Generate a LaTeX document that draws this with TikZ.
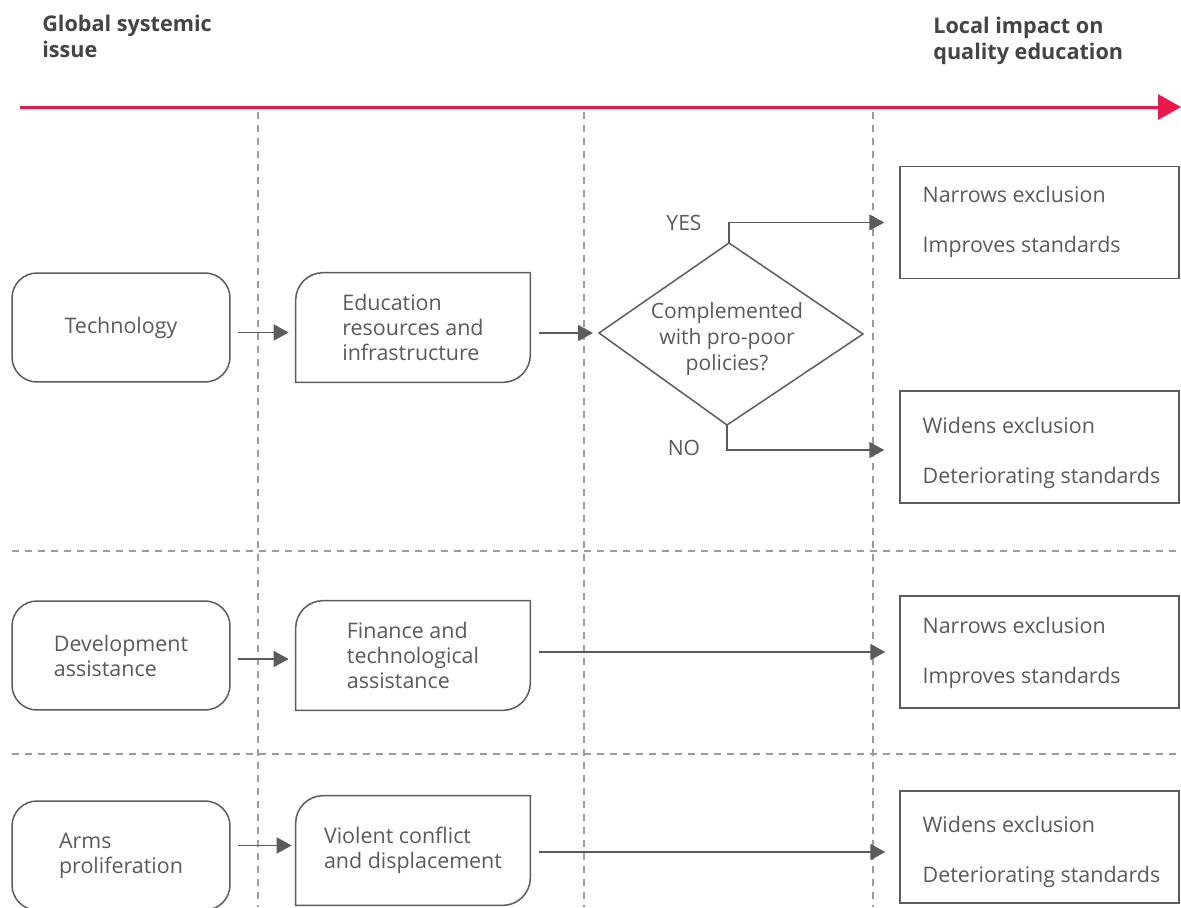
\documentclass[tikz,border=0pt]{standalone}
\usepackage{fontspec}
\setmainfont{Open Sans}
\newfontfamily\osans{Open Sans}
\usetikzlibrary{arrows.meta}
\definecolor{txt}{HTML}{5A5A5A}
\definecolor{ttl}{HTML}{444444}
\definecolor{ln}{HTML}{5C5C5C}
\definecolor{dsh}{HTML}{9C9C9C}
\definecolor{accent}{HTML}{E8194B}
\begin{document}
\begin{tikzpicture}[x=0.02cm,y=-0.02cm,
  font=\fontsize{12.2}{14.2}\selectfont, text=txt,
  lbox/.style={draw=ln, line width=0.03cm, rounded corners=0.5cm, minimum width=4.36cm, minimum height=2.18cm, align=left},
  mbox/.style={minimum width=4.62cm, minimum height=2.18cm, align=left, inner sep=0pt},
  rbox/.style={draw=ln, line width=0.03cm, minimum width=5.58cm, minimum height=2.24cm},
  rtext/.style={anchor=west, inner sep=0pt, align=left},
  conn/.style={draw=ln, line width=0.034cm, -{Triangle[length=0.3cm,width=0.32cm]}},
  gridline/.style={draw=dsh, line width=0.025cm, dash pattern=on 0.14cm off 0.12cm},
  qfont/.style={font=\osans\fontsize{12}{14.8}\selectfont},
  ttlfont/.style={font=\bfseries\fontsize{12.3}{14.8}\selectfont, text=ttl},
  ]
\useasboundingbox (0,0) rectangle (1181,907);
% dashed grid
\draw[gridline] (258,112) -- (258,907);
\draw[gridline] (584,112) -- (584,907);
\draw[gridline] (873,112) -- (873,907);
\draw[gridline] (12,551) -- (1181,551);
\draw[gridline] (12,754) -- (1181,754);
% red axis
\coordinate (axs) at (20,107);
\coordinate (axe) at (1181,107);
\draw[accent, line width=0.06cm, -{Triangle[length=0.46cm,width=0.5cm]}] (axs) -- (axe);
% titles
\node[anchor=north west, inner sep=0pt, align=left, ttlfont] (gsi) at (42,15) {Global systemic\\issue};
\node[anchor=north west, inner sep=0pt, align=left, ttlfont] (lic) at (933,17) {Local impact on\\quality education};
% left boxes
\node[lbox] (t1) at (121,327.5) {Technology};
\node[lbox] (t2) at (121,655.5) {Development\\assistance};
\node[lbox] (t3) at (121,855.5) {Arms\\proliferation};
% middle boxes
\node[mbox] (m1) at (413,327.5) {Education\\resources and\\infrastructure};
\node[mbox] (m2) at (413,655.5) {Finance and\\technological\\assistance};
\node[mbox] (m3) at (413,850.5) {Violent conflict\\and displacement};
\foreach \n in {m1,m2,m3}
  \draw[draw=ln, line width=0.03cm] ([xshift=-0.03cm]\n.south west) -- ([xshift=-0.03cm,yshift=-0.55cm]\n.north west) arc[start angle=180,end angle=90,radius=0.55cm] -- ([xshift=0.03cm]\n.north east) -- ([xshift=0.03cm,yshift=0.55cm]\n.south east) arc[start angle=0,end angle=-90,radius=0.55cm] -- cycle;
% decision diamond
\coordinate (dL) at (599,333);
\coordinate (dT) at (729,243);
\coordinate (dR) at (863,334);
\coordinate (dB) at (727,425);
\draw[draw=ln, line width=0.03cm] (dL) -- (dT) -- (dR) -- (dB) -- cycle;
\node[qfont, align=center] (dq) at (727,339) {Complemented\\with pro-poor\\policies?};
\node[qfont] (yes) at (684,223) {YES};
\node[qfont] (no) at (684,448) {NO};
% right boxes
\node[rbox] (r1) at (1039.5,222.5) {};
\node[rbox] (r2) at (1039.5,447) {};
\node[rbox] (r3) at (1039.5,652) {};
\node[rbox] (r4) at (1039.5,847) {};
\node[rtext] (r1t) at ([xshift=0.46cm,yshift=0.02cm]r1.west) {Narrows exclusion\\[14.2pt]Improves standards};
\node[rtext] (r2t) at ([xshift=0.46cm,yshift=-0.12cm]r2.west) {Widens exclusion\\[14.2pt]Deteriorating standards};
\node[rtext] (r3t) at ([xshift=0.46cm,yshift=-0.02cm]r3.west) {Narrows exclusion\\[14.2pt]Improves standards};
\node[rtext] (r4t) at ([xshift=0.46cm,yshift=-0.1cm]r4.west) {Widens exclusion\\[14.2pt]Deteriorating standards};
% connectors
\draw[conn, shorten <=0.14cm, shorten >=0.14cm] ([yshift=-0.1cm]t1.east) -- ([yshift=-0.1cm,xshift=-0.03cm]m1.west);
\draw[conn, shorten <=0.14cm, shorten >=0.14cm] ([yshift=-0.07cm]t2.east) -- ([yshift=-0.07cm,xshift=-0.03cm]m2.west);
\draw[conn, shorten <=0.14cm, shorten >=0.11cm] ([yshift=0.2cm]t3.east) -- ([yshift=0.2cm]t3.east -| m3.west);
\draw[conn, shorten <=0.21cm, shorten >=0.12cm] (m1.east |- dL) -- (dL);
\draw[conn, shorten >=0.3cm] (dT) |- (r1.west);
\draw[conn, shorten >=0.3cm] (dB) |- ([yshift=-0.06cm]r2.west);
\draw[conn, shorten <=0.21cm, shorten >=0.28cm] (m2.east |- r3.west) -- (r3.west);
\draw[conn, shorten <=0.21cm, shorten >=0.28cm] ([yshift=-0.1cm]m3.east |- r4.west) -- ([yshift=-0.1cm]r4.west);
\end{tikzpicture}
\end{document}
